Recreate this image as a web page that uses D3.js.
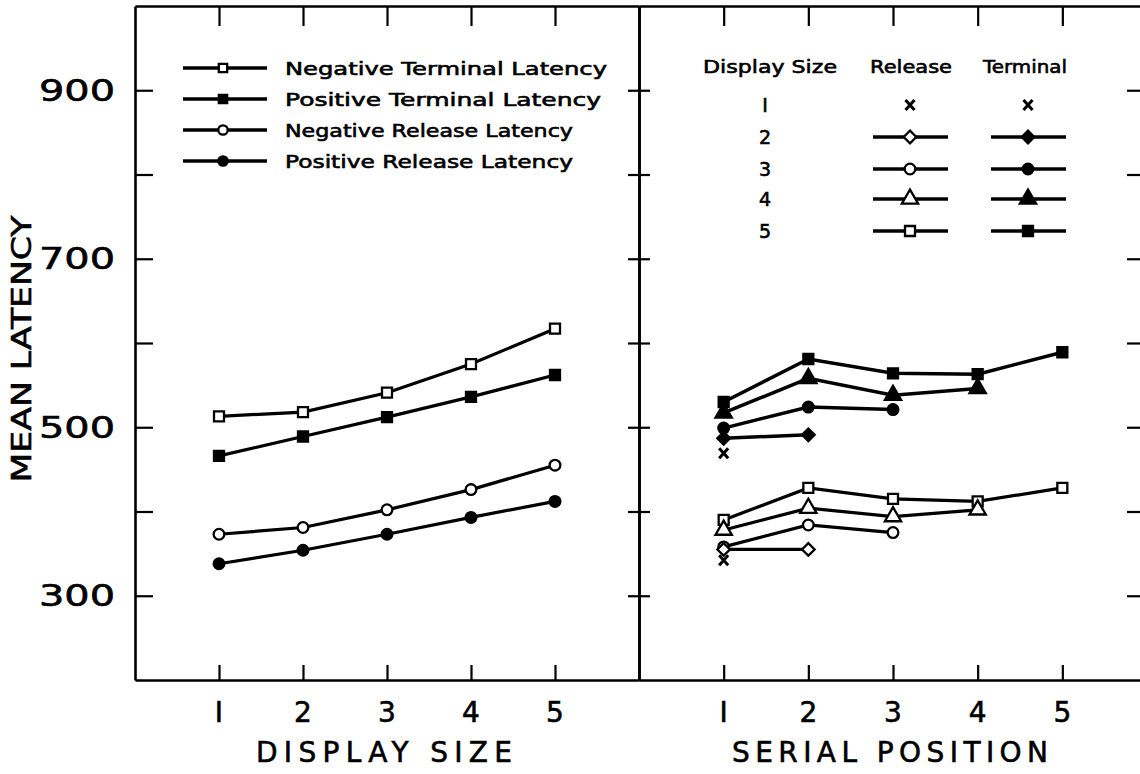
<!DOCTYPE html>
<html>
<head>
<meta charset="utf-8">
<script src="https://cdn.jsdelivr.net/npm/d3@7"></script>
<style>
  body { margin: 0; background: #fff; }
  svg { display: block; }
</style>
</head>
<body>
<div id="root"></div>
<script>
// left panel: latency by display size
const displaySizes = [1, 2, 3, 4, 5];
const negTerminal = [513, 518, 541, 575, 617];
const posTerminal = [466, 489, 512, 536, 562];
const negRelease = [373, 381, 402, 426, 455];
const posRelease = [338, 354, 373, 393, 412];

// right panel: latency by serial position, one array per display size
const release1 = [342];
const release2 = [355, 355];
const release3 = [358, 384, 375];
const release4 = [378, 404, 394, 402];
const release5 = [390, 428, 415, 412, 428];
const terminal1 = [469];
const terminal2 = [487, 491];
const terminal3 = [499, 524, 521];
const terminal4 = [517, 558, 538, 546];
const terminal5 = [530, 581, 564, 563, 589];

const yTicks = [300, 400, 500, 600, 700, 800, 900];
const yLabels = [300, 500, 700, 900];
const xTicks = [1, 2, 3, 4, 5];

const leftLegend = [
  "Negative Terminal  Latency",
  "Positive Terminal Latency",
  "Negative Release Latency",
  "Positive Release Latency",
];

const width = 1140;
const height = 774;
const font = "DejaVu Sans";

const svg = d3
  .select("#root")
  .append("svg")
  .attr("width", width)
  .attr("height", height)
  .attr("viewBox", `0 0 ${width} ${height}`);

const yScale = d3.scaleLinear().domain([200, 1000]).range([680, 6]);
const xLeft = d3.scaleLinear().domain([0, 6]).range([135, 639]);
const xRight = d3.scaleLinear().domain([0, 6]).range([639, 1147]);

// text helper, slight stroke to mimic the heavy print
function label(sel, size) {
  return sel
    .attr("font-family", font)
    .attr("font-size", size)
    .attr("fill", "#000")
    .attr("stroke", "#000")
    .attr("stroke-width", 0.6);
}

// frame + ticks via axes
function styleAxis(g) {
  g.selectAll("path.domain").attr("stroke", "#000").attr("stroke-width", 2.6);
  g.selectAll(".tick line").attr("stroke", "#000").attr("stroke-width", 2.2);
  g.selectAll(".tick text").remove();
}

svg.append("g")
  .attr("transform", `translate(${xLeft(0)},0)`)
  .call(d3.axisRight(yScale).tickValues(yTicks).tickSize(18).tickSizeOuter(0))
  .call(styleAxis);

svg.append("g")
  .attr("transform", `translate(${xLeft(6)},0)`)
  .call(d3.axisRight(yScale).tickValues(yTicks).tickSize(11).tickSizeOuter(0))
  .call(styleAxis);
svg.append("g")
  .attr("transform", `translate(${xLeft(6)},0)`)
  .call(d3.axisLeft(yScale).tickValues(yTicks).tickSize(11).tickSizeOuter(0))
  .call(styleAxis);

svg.append("g")
  .attr("transform", `translate(${xRight(6)},0)`)
  .call(d3.axisLeft(yScale).tickValues(yTicks).tickSize(20).tickSizeOuter(0))
  .call(styleAxis);

[xLeft, xRight].forEach((x) => {
  svg.append("g")
    .attr("transform", `translate(0,${yScale(200)})`)
    .call(d3.axisTop(x).tickValues(xTicks).tickSize(15).tickSizeOuter(0))
    .call(styleAxis);
  svg.append("g")
    .attr("transform", `translate(0,${yScale(1000)})`)
    .call(d3.axisBottom(x).tickValues(xTicks).tickSize(20).tickSizeOuter(0))
    .call(styleAxis);
});

// axis labels
svg.selectAll("text.ylab")
  .data(yLabels)
  .join("text")
  .attr("class", "ylab")
  .attr("x", 115)
  .attr("y", (d) => yScale(d))
  .attr("dominant-baseline", "central")
  .attr("text-anchor", "end")
  .call(label, 30)
  .attr("textLength", 76)
  .attr("lengthAdjust", "spacingAndGlyphs")
  .text((d) => d);

svg.append("text")
  .attr("transform", `translate(21,349) rotate(-90)`)
  .attr("text-anchor", "middle")
  .attr("dominant-baseline", "central")
  .call(label, 27)
  .attr("textLength", 267)
  .attr("lengthAdjust", "spacingAndGlyphs")
  .text("MEAN LATENCY");

[xLeft, xRight].forEach((x, i) => {
  svg.selectAll(`text.xlab${i}`)
    .data(xTicks)
    .join("text")
    .attr("class", `xlab${i}`)
    .attr("x", (d) => x(d))
    .attr("y", 712)
    .attr("dominant-baseline", "central")
    .attr("text-anchor", "middle")
    .call(label, 28)
    .text((d) => (d === 1 ? "I" : d));
  svg.append("text")
    .attr("x", x(3) - 3)
    .attr("y", 752)
    .attr("dominant-baseline", "central")
    .attr("text-anchor", "middle")
    .call(label, 28)
    .attr("textLength", i === 0 ? 256 : 316)
    .attr("lengthAdjust", "spacing")
    .text(i === 0 ? "DISPLAY SIZE" : "SERIAL POSITION");
});

// markers
const sym = {
  square: d3.symbol(d3.symbolSquare, 100),
  circle: d3.symbol(d3.symbolCircle, 90),
  triangle: d3.symbol(d3.symbolTriangle, 115),
  diamond: d3.symbol(d3.symbolSquare, 80),
  smallSquare: d3.symbol(d3.symbolSquare, 70),
  smallCircle: d3.symbol(d3.symbolCircle, 70),
};
const crossPath = "M-4.5,-5L4.5,5M-4.5,5L4.5,-5";

function drawSeries(x, values, shape, filled, lineWidth, startAt = 1) {
  const pts = values.map((v, i) => [x(startAt + i), yScale(v)]);
  svg.append("path")
    .attr("d", d3.line()(pts))
    .attr("fill", "none")
    .attr("stroke", "#000")
    .attr("stroke-width", lineWidth);
  drawMarkers(pts, shape, filled);
}

function drawMarkers(pts, shape, filled) {
  svg.append("g")
    .selectAll("path")
    .data(pts)
    .join("path")
    .attr("transform", (d) =>
      `translate(${d[0]},${d[1]})` + (shape === "diamond" ? " rotate(45)" : ""))
    .attr("d", shape === "cross" ? crossPath : sym[shape]())
    .attr("fill", filled ? "#000" : "#fff")
    .attr("stroke", "#000")
    .attr("stroke-width", shape === "cross" ? 3 : 2.3);
}

// left panel
drawSeries(xLeft, negTerminal, "square", false, 3.2);
drawSeries(xLeft, posTerminal, "square", true, 3.2);
drawSeries(xLeft, negRelease, "circle", false, 3.2);
drawSeries(xLeft, posRelease, "circle", true, 3.2);

// right panel
drawSeries(xRight, terminal5, "square", true, 3.5);
drawSeries(xRight, terminal4, "triangle", true, 3.5);
drawSeries(xRight, terminal3, "circle", true, 3.5);
drawSeries(xRight, terminal2, "diamond", true, 3.5);
drawMarkers(terminal1.map((v) => [xRight(1), yScale(v)]), "cross", false);
drawSeries(xRight, release5, "square", false, 3.2);
drawSeries(xRight, release4, "triangle", false, 3.2);
drawSeries(xRight, release3, "circle", false, 3.2);
drawSeries(xRight, release2, "diamond", false, 3.2);
drawMarkers(release1.map((v) => [xRight(1), yScale(v)]), "cross", false);

// left legend
const legendShapes = [
  ["smallSquare", false],
  ["smallSquare", true],
  ["smallCircle", false],
  ["smallCircle", true],
];
const legendWidths = [322, 316, 288, 288];
leftLegend.forEach((t, i) => {
  const y = 68 + i * 31;
  svg.append("line")
    .attr("x1", 183).attr("x2", 267)
    .attr("y1", y).attr("y2", y)
    .attr("stroke", "#000").attr("stroke-width", 3.4);
  drawMarkers([[223, y]], legendShapes[i][0], legendShapes[i][1]);
  svg.append("text")
    .attr("x", 285)
    .attr("y", y)
    .attr("dominant-baseline", "central")
    .call(label, 18)
    .attr("textLength", legendWidths[i])
    .attr("lengthAdjust", "spacingAndGlyphs")
    .text(t);
});

// right legend
const headers = [
  ["Display Size", 703, 134],
  ["Release", 870, 82],
  ["Terminal", 983, 84],
];
headers.forEach(([t, x, w]) => {
  svg.append("text")
    .attr("x", x)
    .attr("y", 66)
    .attr("dominant-baseline", "central")
    .call(label, 18)
    .attr("textLength", w)
    .attr("lengthAdjust", "spacingAndGlyphs")
    .text(t);
});
const rightShapes = ["cross", "diamond", "circle", "triangle", "square"];
const rowY = [105, 137, 169, 199, 231];
displaySizes.forEach((s, i) => {
  const y = rowY[i];
  svg.append("text")
    .attr("x", 765)
    .attr("y", y)
    .attr("dominant-baseline", "central")
    .attr("text-anchor", "middle")
    .call(label, 19)
    .text(s === 1 ? "I" : s);
  [[910, false], [1028, true]].forEach(([cx, filled]) => {
    if (rightShapes[i] !== "cross") {
      svg.append("line")
        .attr("x1", cx - 37).attr("x2", cx + 38)
        .attr("y1", y).attr("y2", y)
        .attr("stroke", "#000").attr("stroke-width", 3.4);
    }
    drawMarkers([[cx, y]], rightShapes[i], filled);
  });
});
</script>
</body>
</html>
